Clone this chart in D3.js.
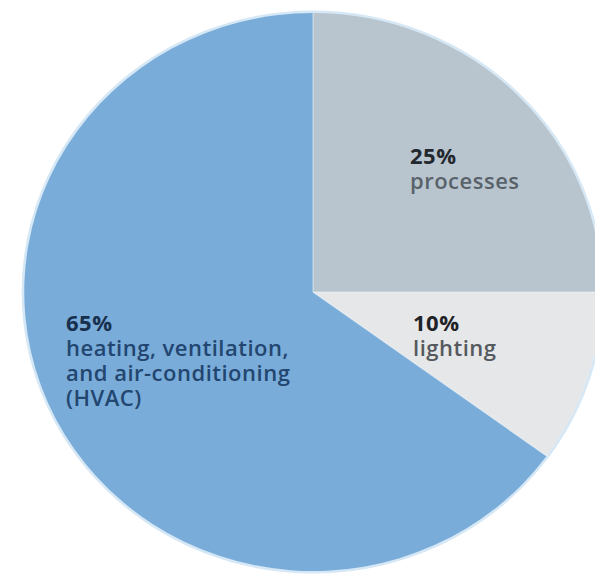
<!DOCTYPE html>
<html>
<head>
<meta charset="utf-8">
<script src="https://cdn.jsdelivr.net/npm/d3@7"></script>
<style>
  body { margin: 0; background: #fff; }
  svg text { font-family: "Open Sans", "Noto Sans", sans-serif; }
</style>
</head>
<body>
<div id="chart"></div>
<script>
// shares of energy use, clockwise from 12 o'clock
const categories = ["processes", "lighting", "hvac"];
const shares = [25, 10, 65];
const colors = ["#b8c5ce", "#e5e7e9", "#79acd9"];
const labelLines = [
    ["processes"],
    ["lighting"],
    ["heating, ventilation,", "and air-conditioning", "(HVAC)"]
];
const pctColor = ["#23282e", "#1f2226", "#172f4d"];
const textColor = ["#59626a", "#55595d", "#234670"];

const width = 595, height = 574;
const cx = 313, cy = 292, r = 279, sx = 1.035;

const svg = d3.select('#chart').append('svg')
    .attr('width', width)
    .attr('height', height);

const pie = d3.pie().sort(null).value(d => d.value);
const arc = d3.arc().innerRadius(0).outerRadius(r);

const data = categories.map((c, i) => ({key: c, value: shares[i], i: i}));
const arcs = pie(data);

const g = svg.append('g')
    .attr('transform', `translate(${cx},${cy}) scale(${sx},1)`);

// soft light rim round the disc
g.append('circle')
    .attr('r', r + 1)
    .attr('fill', 'none')
    .attr('stroke', '#d6e8f6')
    .attr('stroke-width', 3);

g.selectAll('path')
    .data(arcs)
    .join('path')
    .attr('d', arc)
    .attr('fill', d => colors[d.data.i]);

// thin light separators between slices
g.selectAll('line.sep')
    .data(arcs)
    .join('line')
    .attr('class', 'sep')
    .attr('x1', 0).attr('y1', 0)
    .attr('x2', d => r * Math.sin(d.startAngle))
    .attr('y2', d => -r * Math.cos(d.startAngle))
    .attr('stroke', 'rgba(255,255,255,0.45)')
    .attr('stroke-width', 1.2);

// first baseline of each label block
const labelPos = [
    {x: 410, y: 164},
    {x: 413, y: 331},
    {x: 66, y: 331}
];
const lineH = 25;

const labels = svg.append('g').selectAll('text')
    .data(data)
    .join('text')
    .attr('x', d => labelPos[d.i].x)
    .attr('y', d => labelPos[d.i].y)
    .style('font-size', '22px')
    .style('letter-spacing', '0.5px');

labels.append('tspan')
    .attr('x', d => labelPos[d.i].x)
    .attr('font-weight', 700)
    .attr('fill', d => pctColor[d.i])
    .text(d => d.value + '%');

labels.each(function(d) {
    const t = d3.select(this);
    labelLines[d.i].forEach(line => {
        t.append('tspan')
            .attr('x', labelPos[d.i].x)
            .attr('dy', lineH)
            .attr('font-weight', 600)
            .attr('fill', textColor[d.i])
            .text(line);
    });
});
</script>
</body>
</html>
